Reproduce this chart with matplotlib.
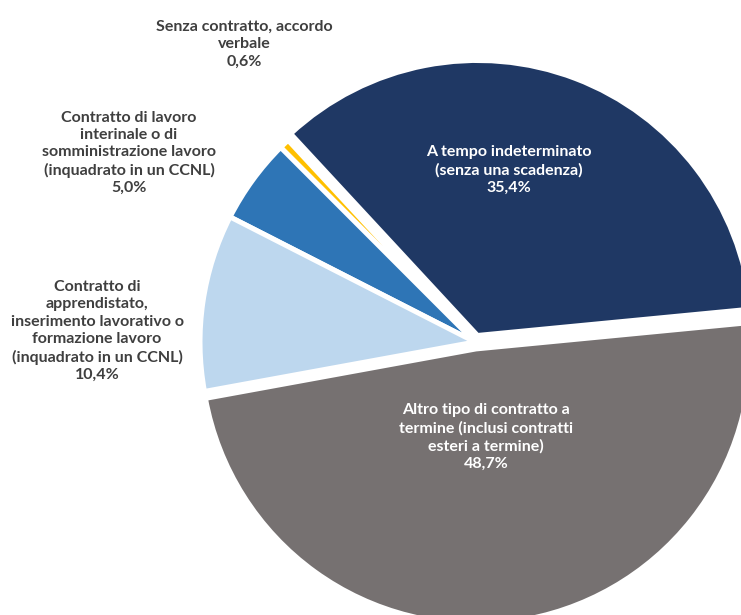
import matplotlib
matplotlib.use("Agg")
import matplotlib.pyplot as plt

# ── Data ────────────────────────────────────────────────────────────────────
categories = [
    "A tempo indeterminato\n(senza una scadenza)",
    "Senza contratto, accordo\nverbale",
    "Contratto di lavoro\ninterinale o di\nsomministrazione lavoro\n(inquadrato in un CCNL)",
    "Contratto di\napprendistato,\ninserimento lavorativo o\nformazione lavoro\n(inquadrato in un CCNL)",
    "Altro tipo di contratto a\ntermine (inclusi contratti\nesteri a termine)",
]
values = [35.4, 0.6, 5.0, 10.4, 48.7]
pct_labels = ["35,4%", "0,6%", "5,0%", "10,4%", "48,7%"]

colors = ["#1F3864", "#FFC000", "#2E75B6", "#BDD7EE", "#767171"]
text_colors = ["white", "#3F3F3F", "#3F3F3F", "#3F3F3F", "white"]

# ── Geometry (pixels) ───────────────────────────────────────────────────────
W, H = 741, 615
CX, CY, R = 475, 342, 275
explode = [7 / R, 0.0, 0.0, 0.0, 7 / R]

# label centres in pixel coordinates (x from left, y from top)
label_px = [(509, 170), (244, 44), (129, 153), (97, 331), (486, 437)]

fig = plt.figure(figsize=(W / 100, H / 100), dpi=100)
ax = fig.add_axes([0, 0, 1, 1])

ax.pie(values, colors=colors, explode=explode, startangle=5.5,
       counterclock=True, radius=1.0, center=(0, 0),
       wedgeprops=dict(edgecolor="white", linewidth=3.6))

ax.set_xlim((0 - CX) / R, (W - CX) / R)
ax.set_ylim((CY - H) / R, CY / R)
ax.set_aspect("equal")
ax.axis("off")


def px2data(px, py):
    return (px - CX) / R, (CY - py) / R


for cat, pct, tc, (px, py) in zip(categories, pct_labels, text_colors, label_px):
    dx, dy = px2data(px, py)
    ax.text(dx, dy, f"{cat}\n{pct}", ha="center", va="center",
            fontsize=11.5, fontweight="bold", color=tc,
            family=["Lato", "DejaVu Sans"], linespacing=1.3)

fig.savefig("out.png", dpi=100)
